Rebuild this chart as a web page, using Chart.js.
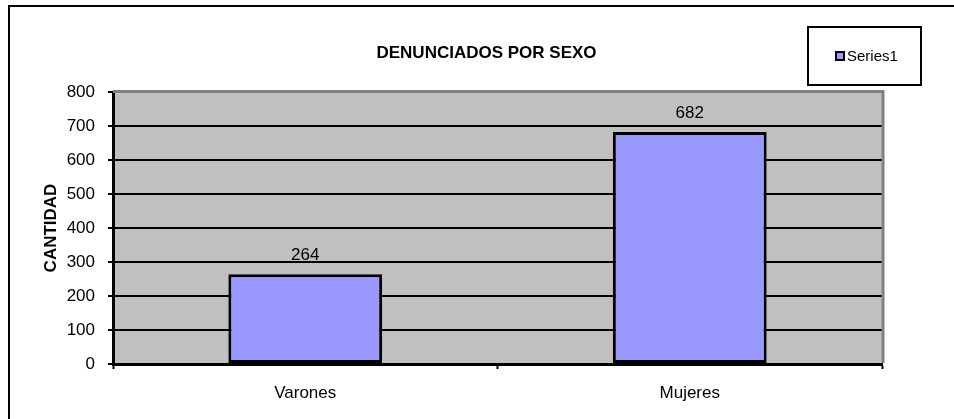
<!DOCTYPE html>
<html>
<head>
<meta charset="utf-8">
<script src="https://cdn.jsdelivr.net/npm/chart.js@4.4.1/dist/chart.umd.min.js"></script>
<style>
    html, body { margin: 0; padding: 0; background: #fff; }
    #wrap { width: 954px; height: 419px; }
</style>
</head>
<body>
<div id="wrap"><canvas id="sexChart" width="954" height="419"></canvas></div>
<script>
const categories = ['Varones', 'Mujeres'];
const seriesName = 'Series1';
const seriesValues = [264, 682];
const yTicks = [0, 100, 200, 300, 400, 500, 600, 700, 800];
const chartTitle = 'DENUNCIADOS POR SEXO';
const yTitle = 'CANTIDAD';

const FONT = '"Liberation Sans", Arial, sans-serif';
const BAR_FILL = '#9999FF';
const PLOT_BG = '#C0C0C0';
const PLOT_EDGE = '#808080';

// frame, gray plot area, title, legend box and value labels
const excelLook = {
    id: 'excelLook',
    beforeDraw(chart) {
        const { ctx, chartArea: a } = chart;
        ctx.save();
        ctx.fillStyle = PLOT_BG;
        ctx.fillRect(a.left, a.top, a.right - a.left, a.bottom - a.top);
        ctx.restore();
    },
    afterDatasetsDraw(chart) {
        const { ctx } = chart;
        const meta = chart.getDatasetMeta(0);
        ctx.save();
        ctx.font = '17px ' + FONT;
        ctx.fillStyle = '#000';
        ctx.textAlign = 'center';
        ctx.textBaseline = 'middle';
        meta.data.forEach((bar, i) => {
            ctx.fillText(String(seriesValues[i]), bar.x, bar.y - 19);
        });
        ctx.restore();
    },
    afterDraw(chart) {
        const { ctx, chartArea: a } = chart;
        ctx.save();

        // plot area edge on top and right
        ctx.strokeStyle = PLOT_EDGE;
        ctx.lineWidth = 3;
        ctx.beginPath();
        ctx.moveTo(a.right + 1, a.bottom - 1);
        ctx.lineTo(a.right + 1, a.top - 0.5);
        ctx.lineTo(a.left, a.top - 0.5);
        ctx.stroke();

        // outer frame
        ctx.strokeStyle = '#000';
        ctx.lineWidth = 2;
        ctx.strokeRect(9, 6, 1000, 500);

        // title
        ctx.fillStyle = '#000';
        ctx.font = 'bold 17px ' + FONT;
        ctx.textAlign = 'center';
        ctx.textBaseline = 'middle';
        ctx.fillText(chartTitle, 486.5, 53);

        // legend
        ctx.fillStyle = '#fff';
        ctx.fillRect(808, 27, 113, 58);
        ctx.strokeStyle = '#000';
        ctx.lineWidth = 2;
        ctx.strokeRect(808, 27, 113, 58);
        ctx.fillStyle = BAR_FILL;
        ctx.fillRect(836, 52, 8, 8);
        ctx.lineWidth = 2;
        ctx.strokeRect(836, 52, 8, 8);
        ctx.fillStyle = '#000';
        ctx.font = '15px ' + FONT;
        ctx.textAlign = 'left';
        ctx.fillText(seriesName, 847, 57);

        ctx.restore();
    }
};

new Chart(document.getElementById('sexChart'), {
    type: 'bar',
    data: {
        labels: categories,
        datasets: [{
            label: seriesName,
            data: seriesValues,
            backgroundColor: BAR_FILL,
            borderColor: '#000',
            borderWidth: 3,
            borderSkipped: false,
            barPercentage: 0.4,
            categoryPercentage: 1.0
        }]
    },
    options: {
        responsive: false,
        animation: false,
        devicePixelRatio: 1,
        layout: { padding: { left: 0, right: 72, top: 92, bottom: 0 } },
        plugins: {
            legend: { display: false },
            title: { display: false },
            tooltip: { enabled: false }
        },
        scales: {
            x: {
                offset: true,
                grid: {
                    offset: true,
                    drawOnChartArea: false,
                    drawTicks: true,
                    tickLength: 5,
                    tickColor: '#000',
                    tickWidth: 2
                },
                border: { color: '#000', width: 3 },
                ticks: {
                    color: '#000',
                    font: { family: FONT, size: 17 },
                    padding: 14
                },
                afterFit(scale) { scale.height = 55; }
            },
            y: {
                min: yTicks[0],
                max: yTicks[yTicks.length - 1],
                afterBuildTicks(scale) {
                    scale.ticks = yTicks.map(v => ({ value: v }));
                },
                grid: {
                    color: ctx => ctx.tick && ctx.tick.value === yTicks[yTicks.length - 1] ? PLOT_EDGE : '#000',
                    lineWidth: 2,
                    tickLength: 5,
                    tickColor: '#000',
                    tickWidth: 2
                },
                border: { color: '#000', width: 3 },
                ticks: {
                    color: '#000',
                    font: { family: FONT, size: 17 },
                    padding: 13
                },
                title: {
                    display: true,
                    text: yTitle,
                    color: '#000',
                    font: { family: FONT, size: 17, weight: 'bold' },
                    padding: { top: 41, bottom: 0 }
                },
                afterFit(scale) { scale.width = 113; }
            }
        }
    },
    plugins: [excelLook]
});
</script>
</body>
</html>
